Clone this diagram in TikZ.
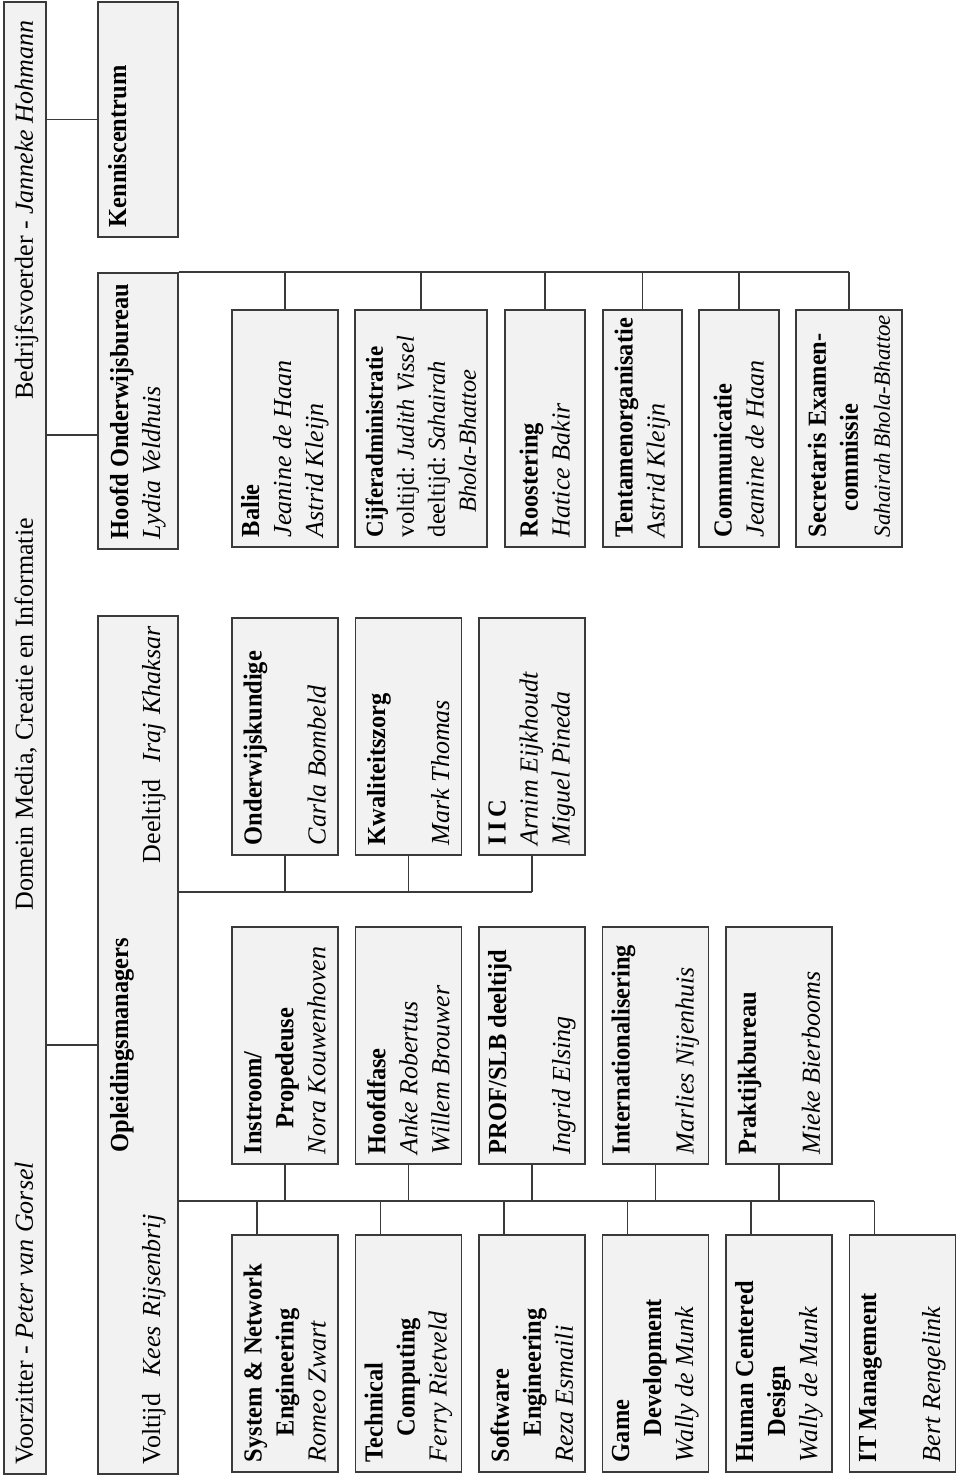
\documentclass[tikz,border=0pt]{standalone}
\usepackage{fontspec}
\setmainfont{Liberation Serif}[BoldFeatures={FakeStretch=0.94}]
\usetikzlibrary{positioning}
\frenchspacing

\definecolor{boxfill}{HTML}{F2F2F2}
\definecolor{boxline}{HTML}{3A3A3A}
\newcommand{\orgfont}{\fontsize{26}{32}\selectfont}

\begin{document}
\begin{tikzpicture}[x=1pt, y=1pt, rotate=90, transform shape,
	unit/.style={draw=boxline, fill=boxfill, line width=1.7pt, anchor=north west,
		inner xsep=10pt, inner ysep=0pt, text width=217pt, minimum height=106pt,
		align=flush left, font=\orgfont},
	bartext/.style={font=\orgfont, inner sep=0pt},
	link/.style={draw=boxline, line width=1.7pt}]
	
	\useasboundingbox (0,0) rectangle (1480,-960);
	
	% geometry
	\def\pitch{123.5}
	\def\colA{7}
	\def\colB{315}
	\def\colC{624}
	\def\colD{932}
	
	% top bar
	\node[unit, text width=1452pt, minimum height=42pt] (bar) at (5,-3) {};
	\node[bartext, anchor=base west] (vz) at ([xshift=10pt, yshift=-8pt]bar.west) {Voorzitter - \textit{Peter van Gorsel}};
	\node[bartext, anchor=base] (dm) at ([xshift=24pt, yshift=-8pt]bar.center) {Domein Media, Creatie en Informatie};
	\node[bartext, anchor=base east] (bv) at ([xshift=-19pt, yshift=-8pt]bar.east) {Bedrijfsvoerder - \textit{Janneke Hohmann}};
	
	% second level
	\node[unit, text width=838pt, minimum height=80pt, align=center] (opl) at (5,-97)
	{\textbf{Opleidingsmanagers}\\ Voltijd\ \ \textit{Kees Rijsenbrij}\hfill Deeltijd\ \ \textit{Iraj Khaksar}};
	\node[unit, text width=256pt, minimum height=80pt] (hob) at (930,-97)
	{\textbf{Hoofd Onderwijsbureau}\\ \textit{Lydia Veldhuis}};
	\node[unit, text width=215pt, minimum height=80pt] (kc) at (1242,-97)
	{\textbf{Kenniscentrum}\\ \strut};
	
	% opleidingen
	\node[unit] (sne) at (\colA,-231) {\textbf{System \& Network}\\ \hspace*{1em}\textbf{Engineering}\\ \textit{Romeo Zwart}};
	\node[unit] (tc) at (\colA,-231-\pitch) {\textbf{Technical}\\ \hspace*{1em}\textbf{Computing}\\ \textit{Ferry Rietveld}};
	\node[unit] (se) at (\colA,-231-2*\pitch) {\textbf{Software}\\ \hspace*{1em}\textbf{Engineering}\\ \textit{Reza Esmaili}};
	\node[unit] (gd) at (\colA,-231-3*\pitch) {\textbf{Game}\\ \hspace*{1em}\textbf{Development}\\ \textit{Wally de Munk}};
	\node[unit] (hcd) at (\colA,-231-4*\pitch) {\textbf{Human Centered}\\ \hspace*{1em}\textbf{Design}\\ \textit{Wally de Munk}};
	\node[unit] (itm) at (\colA,-231-5*\pitch) {\textbf{IT Management}\\ \strut\\ \textit{Bert Rengelink}};
	
	% fasen
	\node[unit] (ins) at (\colB,-231) {\textbf{Instroom/}\\ \hspace*{1em}\textbf{Propedeuse}\\ \textit{Nora Kouwenhoven}};
	\node[unit] (hf) at (\colB,-231-\pitch) {\textbf{Hoofdfase}\\ \textit{Anke Robertus}\\ \textit{Willem Brouwer}};
	\node[unit] (prof) at (\colB,-231-2*\pitch) {\textbf{PROF/SLB deeltijd}\\ \strut\\ \textit{Ingrid Elsing}};
	\node[unit] (intl) at (\colB,-231-3*\pitch) {\textbf{Internationalisering}\\ \strut\\ \textit{Marlies Nijenhuis}};
	\node[unit] (prk) at (\colB,-231-4*\pitch) {\textbf{Praktijkbureau}\\ \strut\\ \textit{Mieke Bierbooms}};
	
	% staf
	\node[unit] (ond) at (\colC,-231) {\textbf{Onderwijskundige}\\ \strut\\ \textit{Carla Bombeld}};
	\node[unit] (kwz) at (\colC,-231-\pitch) {\textbf{Kwaliteitszorg}\\ \strut\\ \textit{Mark Thomas}};
	\node[unit] (iic) at (\colC,-231-2*\pitch) {\textbf{I\,I\,C}\\ \textit{Arnim Eijkhoudt}\\ \textit{Miguel Pineda}};
	
	% onderwijsbureau
	\node[unit] (bal) at (\colD,-231) {\textbf{Balie}\\ \textit{Jeanine de Haan}\\ \textit{Astrid Kleijn}};
	\node[unit, minimum height=132pt, font=\fontsize{24.5}{31}\selectfont] (cij) at (\colD,-354)
	{\textbf{Cijferadministratie}\\ voltijd: \textit{Judith Vissel}\\ deeltijd: \textit{Sahairah}\\ \hspace*{1em}\textit{Bhola-Bhattoe}};
	\node[unit, minimum height=80pt] (roo) at (\colD,-504) {\textbf{Roostering}\\ \textit{Hatice Bakir}};
	\node[unit, minimum height=79pt] (tnt) at (\colD,-602) {\textbf{Tentamenorganisatie}\\ \textit{Astrid Kleijn}};
	\node[unit, minimum height=80pt] (com) at (\colD,-698) {\textbf{Communicatie}\\ \textit{Jeanine de Haan}};
	\node[unit] (sec) at (\colD,-795) {\textbf{Secretaris Examen-}\\ \hspace*{1em}\textbf{commissie}\\ \mbox{\fontsize{23}{32}\selectfont\textit{Sahairah\,Bhola-Bhattoe}}};
	
	% lines
	\coordinate (hobin) at ([xshift=-24pt]hob.north);
	\draw[link] (opl.north) -- (opl.north |- bar.south);
	\draw[link] (hobin) -- (hobin |- bar.south);
	\draw[link] (kc.north) -- (kc.north |- bar.south);
	
	\coordinate (busA) at ([xshift=274pt]opl.south west);
	\coordinate (busB) at ([xshift=583pt]opl.south west);
	\coordinate (busC) at (hob.south east);
	
	\foreach \n in {sne,tc,se,gd,hcd,itm}{
		\coordinate (b\n) at ([yshift=28pt]\n.east);
		\draw[link] (b\n) -- (b\n -| busA);
	}
	\draw[link] (busA) -- (busA |- bitm);
	\foreach \n in {ins,hf,prof,intl,prk}
	\draw[link] (\n.west) -- (\n.west -| busA);
	
	\draw[link] (busB) -- (busB |- iic.west);
	\foreach \n in {ond,kwz,iic}
	\draw[link] (\n.west) -- (\n.west -| busB);
	
	\draw[link] (busC) -- (busC |- sec.east);
	\foreach \n in {bal,cij,roo,tnt,com,sec}
	\draw[link] (\n.east) -- (\n.east -| busC);
	
\end{tikzpicture}
\end{document}
